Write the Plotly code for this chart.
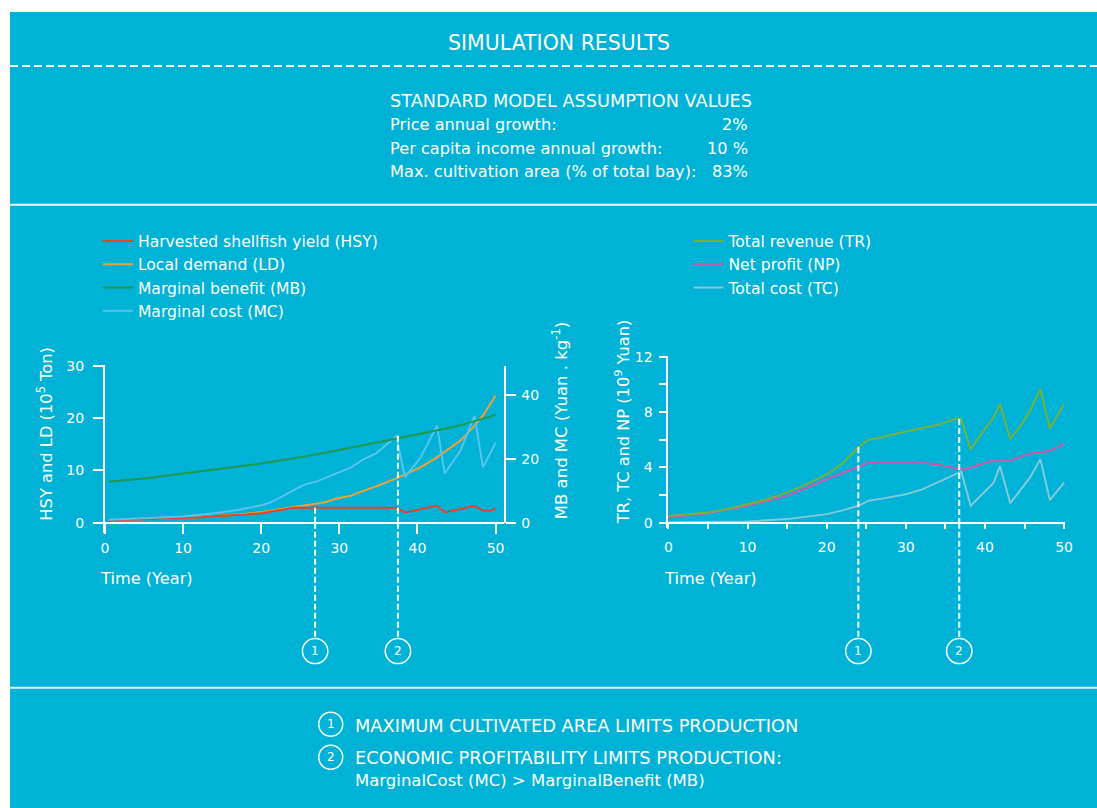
import plotly.graph_objects as go

# ---------------- data ----------------
# Left chart: HSY and LD on left axis (10^5 Ton), MB and MC on right axis (Yuan/kg)
hsy_years = [0.5, 2, 5, 8, 10, 12, 14, 16, 18, 20, 22, 24.2, 37.3, 38.4, 42.5, 43.5, 47.3, 48.4, 49.3, 50]
hsy_vals = [0.3, 0.6, 0.7, 0.8, 0.9, 1.0, 1.25, 1.4, 1.6, 1.85, 2.3, 2.9, 2.9, 2.0, 3.25, 2.0, 3.25, 2.3, 2.3, 2.7]

ld_years = [0.5, 2, 5, 8, 10, 12, 14, 16, 18, 20, 22, 24.2, 26.9, 28, 29.7, 31.5, 33.1, 34.7, 37.3, 40.4, 42.5, 45.5, 47.3, 48.4, 50]
ld_vals = [0.3, 0.6, 0.7, 0.85, 0.95, 1.05, 1.3, 1.5, 1.75, 2.05, 2.5, 2.95, 3.6, 3.9, 4.65, 5.2, 6.1, 6.95, 8.5, 10.6, 12.5, 15.7, 18.5, 20.5, 24.3]

mb_years = [0.5, 2, 4, 6, 8, 10, 12, 14, 16, 18, 20, 22, 24, 26, 28, 30, 32, 34, 36, 38, 40, 42, 44, 46, 48, 50]
mb_vals = [12.8, 13.1, 13.6, 14.1, 14.8, 15.4, 16.0, 16.5, 17.2, 17.8, 18.5, 19.3, 20.0, 20.9, 21.8, 22.7, 23.6, 24.6, 25.6, 26.6, 27.6, 28.5, 29.6, 30.8, 32.2, 33.7]

mc_years = [0.5, 5, 10, 14, 17, 20, 21, 22, 23, 24, 25, 26, 27, 28, 29.7, 31.5, 33.1, 34.7, 36.1, 37.3, 38.4, 40.4, 42.5, 43.5, 45.5, 47.3, 48.4, 50]
mc_vals = [1.0, 1.5, 2.0, 3.0, 4.0, 5.5, 6.2, 7.3, 8.6, 10.0, 11.3, 12.3, 12.8, 13.8, 15.5, 17.3, 19.8, 21.7, 24.5, 27.0, 14.2, 20.4, 30.3, 15.4, 22.5, 33.4, 17.3, 25.0]

# Right chart: TR, NP, TC (10^9 Yuan)
tr_years = [0, 2.5, 5, 7.5, 10, 12.5, 15, 17.5, 20, 22, 24, 25.3, 27, 30, 32, 34.3, 36.5, 37, 38.2, 39.5, 41.1, 41.9, 43.2, 44.5, 45.7, 47, 48.2, 50]
tr_vals = [0.5, 0.6, 0.75, 1.0, 1.35, 1.7, 2.2, 2.8, 3.5, 4.3, 5.45, 6.0, 6.2, 6.6, 6.85, 7.1, 7.55, 7.5, 5.3, 6.4, 7.6, 8.6, 6.05, 7.0, 8.1, 9.65, 6.8, 8.6]

np_years = [0, 5, 10, 15, 20, 22, 24, 25.3, 30, 32, 34.3, 36.6, 37.5, 38.2, 40.7, 43.2, 45.7, 47.3, 48.6, 50]
np_vals = [0.4, 0.7, 1.23, 1.95, 3.15, 3.6, 4.1, 4.35, 4.35, 4.35, 4.2, 3.9, 3.85, 4.0, 4.45, 4.5, 5.0, 5.1, 5.3, 5.7]

tc_years = [0, 5, 10, 15, 20, 22, 24, 25.3, 27, 30, 32, 34.3, 36.6, 37, 38.2, 41.1, 41.9, 43.2, 45.7, 47, 48.2, 50]
tc_vals = [0.05, 0.05, 0.1, 0.27, 0.63, 0.9, 1.23, 1.6, 1.75, 2.07, 2.4, 3.0, 3.56, 3.7, 1.23, 2.9, 4.1, 1.42, 3.28, 4.6, 1.64, 2.9]

# tick labels
left_x_ticks = [0, 10, 20, 30, 40, 50]
left_y_ticks = [0, 10, 20, 30]
left_y2_ticks = [0, 20, 40]
right_x_ticks = [0, 10, 20, 30, 40, 50]
right_y_ticks = [0, 4, 8, 12]

# limit markers (year, value at top of dashed line)
mark_labels = ["1", "2"]
left_mark_years = [26.9, 37.5]
left_mark_tops = [2.9, 27.2]      # first on HSY axis, second on MB/MC axis
right_mark_years = [24.0, 36.75]
right_mark_tops = [5.45, 7.5]

# ---------------- layout helpers ----------------
W, H = 1106, 817
# positions below are given in target-picture pixels; these map them onto the page
SX, OX = 0.99, 3.0
SY, OY = 0.98, 7.0
def px(x):
    return ((x - OX) / SX) / W
def py(y):
    return 1 - ((y - OY) / SY) / H

BG = "#00B2D6"
WHITE = "#FFFFFF"
FONT = "DejaVu Sans"

C_HSY = "#E8412C"
C_LD = "#F7A030"
C_MB = "#1E9A4A"
C_MC = "#55C4EE"
C_TR = "#72B33E"
C_NP = "#CF5AAC"
C_TC = "#80CADC"

fig = go.Figure()

def line_trace(x, y, name, color, xa, ya, legend, rank, width=2):
    return go.Scatter(x=x, y=y, name=name, mode="lines",
                      line=dict(color=color, width=width),
                      xaxis=xa, yaxis=ya, legend=legend, legendrank=rank,
                      hoverinfo="skip")

fig.add_trace(line_trace(ld_years, ld_vals, "Local demand (LD)", C_LD, "x", "y", "legend", 2))
fig.add_trace(line_trace(hsy_years, hsy_vals, "Harvested shellfish yield (HSY)", C_HSY, "x", "y", "legend", 1))
fig.add_trace(line_trace(mc_years, mc_vals, "Marginal cost (MC)", C_MC, "x", "y2", "legend", 4))
fig.add_trace(line_trace(mb_years, mb_vals, "Marginal benefit (MB)", C_MB, "x", "y2", "legend", 3))

fig.add_trace(line_trace(tc_years, tc_vals, "Total cost (TC)", C_TC, "x2", "y3", "legend2", 3))
fig.add_trace(line_trace(np_years, np_vals, "Net profit (NP)", C_NP, "x2", "y3", "legend2", 2))
fig.add_trace(line_trace(tr_years, tr_vals, "Total revenue (TR)", C_TR, "x2", "y3", "legend2", 1))

tickfont = dict(family=FONT, size=14, color=WHITE)
axbase = dict(showgrid=False, zeroline=False, showline=True, linecolor=WHITE, linewidth=2,
              tickcolor=WHITE, tickwidth=2, tickfont=tickfont, tickmode="array", fixedrange=True)

left_x_range = [0, (503 - 104) / 7.82]
left_y_range = [-10 / 5.233, (522 - 364) / 5.233]
left_y2_range = [0, (522 - 365) / 3.2]
right_x_range = [0, (1065 - 668) / 7.92]
right_y_range = [-5 / 13.83, (522 - 355) / 13.83]

legfont = dict(family=FONT, size=15.6, color=WHITE)

fig.update_layout(
    width=W, height=H,
    margin=dict(l=0, r=0, t=0, b=0),
    paper_bgcolor="white", plot_bgcolor="rgba(0,0,0,0)",
    font=dict(family=FONT, color=WHITE),
    xaxis=dict(axbase, domain=[px(104), px(503)], range=left_x_range, anchor="free", position=py(522),
               ticks="outside", ticklen=10, tickvals=left_x_ticks, ticklabelstandoff=2),
    xaxis3=dict(showgrid=False, zeroline=False, showline=False, overlaying="x", range=left_x_range,
                anchor="free", position=py(522), ticks="inside", ticklen=10, tickwidth=2, tickcolor=WHITE,
                tickmode="array", tickvals=left_x_ticks, showticklabels=False),
    yaxis=dict(axbase, domain=[py(532), py(364)], range=left_y_range, anchor="x",
               ticks="outside", ticklen=10, tickvals=left_y_ticks, ticklabelstandoff=6),
    yaxis4=dict(showgrid=False, zeroline=False, showline=False, overlaying="y", range=left_y_range,
                anchor="x", ticks="inside", ticklen=10, tickwidth=2, tickcolor=WHITE,
                tickmode="array", tickvals=left_y_ticks, showticklabels=False),
    yaxis2=dict(axbase, domain=[py(522), py(365)], range=left_y2_range, anchor="x", side="right",
                ticks="outside", ticklen=10, tickvals=left_y2_ticks, ticklabelstandoff=3),
    yaxis5=dict(showgrid=False, zeroline=False, showline=False, overlaying="y2", range=left_y2_range,
                anchor="x", side="right", ticks="inside", ticklen=10, tickwidth=2, tickcolor=WHITE,
                tickmode="array", tickvals=left_y2_ticks, showticklabels=False),
    xaxis2=dict(axbase, domain=[px(668), px(1065)], range=right_x_range, anchor="free", position=py(522),
                ticks="outside", ticklen=5, tickvals=right_x_ticks, ticklabelstandoff=6,
                minor=dict(dtick=5, tick0=0, ticks="outside", ticklen=5, tickwidth=2, tickcolor=WHITE)),
    yaxis3=dict(axbase, domain=[py(527), py(355)], range=right_y_range, anchor="x2",
                ticks="outside", ticklen=7, tickvals=right_y_ticks, ticklabelstandoff=4,
                minor=dict(dtick=2, tick0=0, ticks="outside", ticklen=7, tickwidth=2, tickcolor=WHITE)),
    legend=dict(x=px(97), y=py(224), xanchor="left", yanchor="top", bgcolor="rgba(0,0,0,0)",
                font=legfont, tracegroupgap=0, itemwidth=30, traceorder="normal"),
    legend2=dict(x=px(688), y=py(224), xanchor="left", yanchor="top", bgcolor="rgba(0,0,0,0)",
                 font=legfont, tracegroupgap=0, itemwidth=30, traceorder="normal"),
)

shapes = []
# background panel
shapes.append(dict(type="rect", xref="paper", yref="paper", x0=px(9), x1=1, y0=0, y1=py(12),
                   fillcolor=BG, line=dict(width=0), layer="below"))
# separators
shapes.append(dict(type="line", xref="paper", yref="paper", x0=px(9), x1=1, y0=py(66), y1=py(66),
                   line=dict(color=WHITE, width=2, dash="8px,4px")))
for yy in (204.5, 686.5):
    shapes.append(dict(type="line", xref="paper", yref="paper", x0=px(9), x1=1, y0=py(yy), y1=py(yy),
                       line=dict(color="#E8F8FC", width=2)))

annotations = []
DASH = "6px,3px"

def add_marker(xa, ya, year, top, label):
    shapes.append(dict(type="line", xref=xa, yref=ya, x0=year, x1=year, y0=top, y1=0,
                       line=dict(color=WHITE, width=2, dash=DASH)))
    shapes.append(dict(type="line", xref=xa, yref="paper", x0=year, x1=year, y0=py(522), y1=py(638),
                       line=dict(color=WHITE, width=2, dash=DASH)))
    shapes.append(dict(type="circle", xref=xa, yref="paper", xsizemode="pixel", xanchor=year,
                       x0=-12.7, x1=12.7, y0=py(662.5), y1=py(637.5),
                       line=dict(color=WHITE, width=1.5)))
    annotations.append(dict(xref=xa, yref="paper", x=year, y=py(650), text=label, showarrow=False,
                            font=dict(family=FONT, size=12, color=WHITE), xanchor="center", yanchor="middle"))

add_marker("x", "y", left_mark_years[0], left_mark_tops[0], mark_labels[0])
add_marker("x", "y2", left_mark_years[1], left_mark_tops[1], mark_labels[1])
add_marker("x2", "y3", right_mark_years[0], right_mark_tops[0], mark_labels[0])
add_marker("x2", "y3", right_mark_years[1], right_mark_tops[1], mark_labels[1])

def txt(x, y, s, size=16, xanchor="left", angle=0):
    annotations.append(dict(xref="paper", yref="paper", x=px(x), y=py(y), text=s, showarrow=False,
                            textangle=angle, xanchor=xanchor, yanchor="middle",
                            font=dict(family=FONT, size=size, color=WHITE)))

# header
txt(558, 43, "SIMULATION RESULTS", size=20.5, xanchor="center")
txt(387, 101, "STANDARD MODEL ASSUMPTION VALUES", size=17.7)
txt(387, 124, "Price annual growth:", size=16.2)
txt(387, 148, "Per capita income annual growth:", size=16.2)
txt(387, 171, "Max. cultivation area (% of total bay):", size=16.2)
txt(750, 124, "2%", size=16.2, xanchor="right")
txt(750, 148, "10 %", size=16.2, xanchor="right")
txt(750, 171, "83%", size=16.2, xanchor="right")

# axis titles
txt(97, 578, "Time (Year)", size=16.2)
txt(662, 578, "Time (Year)", size=16.2)
txt(44, 433, "HSY and LD (10<sup>5</sup> Ton)", size=16.3, xanchor="center", angle=-90)
txt(559, 420, "MB and MC (Yuan . kg<sup>-1</sup>)", size=16.5, xanchor="center", angle=-90)
txt(621, 421, "TR, TC and NP (10<sup>9</sup> Yuan)", size=16.2, xanchor="center", angle=-90)

# footer
for cy, lab in ((723, "1"), (756, "2")):
    shapes.append(dict(type="circle", xref="paper", yref="paper", x0=px(318), x1=px(342),
                       y0=py(cy + 12), y1=py(cy - 12), line=dict(color=WHITE, width=1.5)))
    txt(330, cy, lab, size=12, xanchor="center")
txt(352, 724, "MAXIMUM CULTIVATED AREA LIMITS PRODUCTION", size=17.8)
txt(352, 756, "ECONOMIC PROFITABILITY LIMITS PRODUCTION:", size=17.8)
txt(352, 779, "MarginalCost (MC) &gt; MarginalBenefit (MB)", size=16.5)

fig.update_layout(shapes=shapes, annotations=annotations)

fig.write_html("out.html", config={"displayModeBar": False},
               post_script="document.body.style.margin='0';")
